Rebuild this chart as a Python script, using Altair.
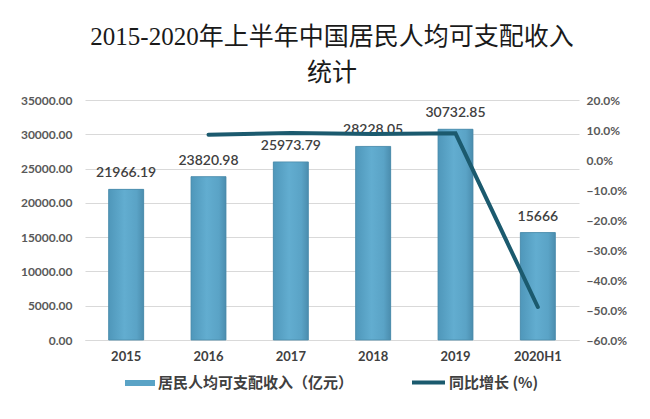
import altair as alt
import pandas as pd

years = ["2015", "2016", "2017", "2018", "2019", "2020H1"]
income = [21966.19, 23820.98, 25973.79, 28228.05, 30732.85, 15666]
growth = [None, 0.084, 0.090, 0.087, 0.089, -0.490]
income_labels = ["21966.19", "23820.98", "25973.79", "28228.05", "30732.85", "15666"]

df = pd.DataFrame({"year": years, "income": income, "growth": growth, "label": income_labels})

bar_name = "居民人均可支配收入（亿元）"
line_name = "同比增长 (%)"

xenc = alt.X("year:N", sort=years,
             scale=alt.Scale(paddingInner=0.575, paddingOuter=0.2875),
             axis=alt.Axis(title=None, labelAngle=0, labelFont="Lato", labelFontWeight="bold",
                           labelFontSize=13, labelColor="#404040", labelPadding=10,
                           ticks=False, domainColor="#d9d9d9"))

yleft = alt.Y("income:Q", scale=alt.Scale(domain=[0, 35000], nice=False),
              axis=alt.Axis(title=None, values=[0, 5000, 10000, 15000, 20000, 25000, 30000, 35000],
                            format=".2f", labelFont="Lato", labelFontWeight="bold", labelFontSize=12,
                            labelColor="#595959", labelPadding=13, ticks=False, domain=False,
                            grid=True, gridColor="#d9d9d9"))

base = alt.Chart(df)

bar_legend = base.mark_bar().encode(
    x=xenc, y=yleft,
    color=alt.Color("bname:N", scale=alt.Scale(domain=[bar_name], range=["#5aa3c6"]),
                    legend=alt.Legend(title=None, orient="none", legendX=40, legendY=268,
                                      symbolType="M-1,-0.2H1V0.2H-1Z", symbolSize=900,
                                      symbolStrokeWidth=0, labelFont="Noto Sans CJK SC",
                                      labelFontSize=15, labelFontWeight="bold", labelLimit=400,
                                      labelColor="#404040", labelOffset=3, padding=0))
).transform_calculate(bname=f"'{bar_name}'")

grad = alt.Gradient(gradient="linear", x1=0, x2=1, y1=0, y2=0,
                    stops=[alt.GradientStop(color="#4f97ba", offset=0),
                           alt.GradientStop(color="#62add0", offset=0.45),
                           alt.GradientStop(color="#5aa3c6", offset=0.8),
                           alt.GradientStop(color="#4b8dae", offset=1)])

bar_grad = base.mark_bar(fill=grad, stroke="#4a8aa9", strokeWidth=0.8).encode(x=xenc, y=yleft)

labels = base.mark_text(dy=-16, baseline="middle", font="Lato", fontSize=14,
                        fontWeight=600, color="#404040").encode(x=xenc, y=yleft, text="label:N")

left = alt.layer(bar_legend, bar_grad, labels)

line = base.mark_line(strokeWidth=4, strokeCap="round").encode(
    x=xenc,
    y=alt.Y("growth:Q", scale=alt.Scale(domain=[-0.6, 0.2], nice=False),
            axis=alt.Axis(title=None, orient="right", format=".1%",
                          values=[-0.6, -0.5, -0.4, -0.3, -0.2, -0.1, 0, 0.1, 0.2],
                          labelFont="Lato", labelFontWeight="bold", labelFontSize=12,
                          labelColor="#595959", labelPadding=7, ticks=False, domain=False,
                          grid=False)),
    stroke=alt.Stroke("lname:N", scale=alt.Scale(domain=[line_name], range=["#1b5a6e"]),
                      legend=alt.Legend(title=None, orient="none", legendX=325, legendY=264,
                                        symbolType="stroke", symbolSize=1089, symbolStrokeWidth=4,
                                        labelFont="Noto Sans CJK SC", labelFontSize=15,
                                        labelFontWeight="bold", labelColor="#404040", labelLimit=400,
                                        labelOffset=2, padding=0))
).transform_calculate(lname=f"'{line_name}'").transform_filter("datum.growth != null")

chart = alt.layer(left, line).resolve_scale(y="independent").properties(
    width=494, height=240,
    autosize=alt.AutoSizeParams(type="none"),
    padding={"left": 77, "top": 92, "right": 63, "bottom": 71},
    background="white",
    title=alt.Title(["2015-2020年上半年中国居民人均可支配收入", "统计"],
                    font="Liberation Serif, Noto Sans CJK SC", fontSize=25, fontWeight="normal",
                    color="#1a1a1a", lineHeight=36, anchor="middle", offset=8)
).configure_view(stroke=None)

chart.save("out.html", embed_options={"renderer": "svg", "actions": False})
